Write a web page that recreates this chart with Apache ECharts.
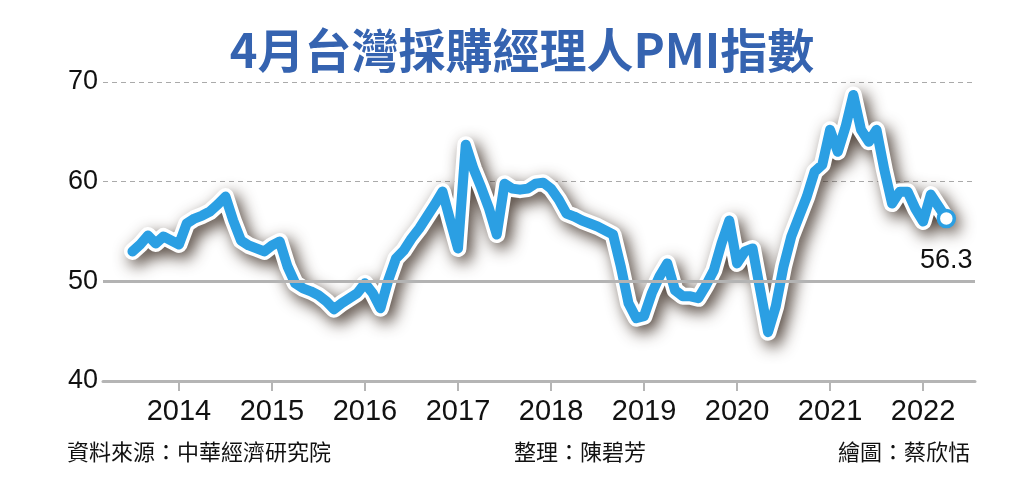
<!DOCTYPE html>
<html>
<head>
<meta charset="utf-8">
<title>4月台灣採購經理人PMI指數</title>
<script src="https://cdn.jsdelivr.net/npm/echarts@6/dist/echarts.min.js"></script>
<style>
  html, body { margin: 0; padding: 0; background: #fff; }
  #chart { width: 1024px; height: 490px; }
</style>
</head>
<body>
<div id="chart"></div>
<script>
// 月份(2013-07 ~ 2022-04)
const months = [
    '2013-07', '2013-08', '2013-09', '2013-10', '2013-11', '2013-12',
    '2014-01', '2014-02', '2014-03', '2014-04', '2014-05', '2014-06', '2014-07', '2014-08', '2014-09', '2014-10', '2014-11', '2014-12',
    '2015-01', '2015-02', '2015-03', '2015-04', '2015-05', '2015-06', '2015-07', '2015-08', '2015-09', '2015-10', '2015-11', '2015-12',
    '2016-01', '2016-02', '2016-03', '2016-04', '2016-05', '2016-06', '2016-07', '2016-08', '2016-09', '2016-10', '2016-11', '2016-12',
    '2017-01', '2017-02', '2017-03', '2017-04', '2017-05', '2017-06', '2017-07', '2017-08', '2017-09', '2017-10', '2017-11', '2017-12',
    '2018-01', '2018-02', '2018-03', '2018-04', '2018-05', '2018-06', '2018-07', '2018-08', '2018-09', '2018-10', '2018-11', '2018-12',
    '2019-01', '2019-02', '2019-03', '2019-04', '2019-05', '2019-06', '2019-07', '2019-08', '2019-09', '2019-10', '2019-11', '2019-12',
    '2020-01', '2020-02', '2020-03', '2020-04', '2020-05', '2020-06', '2020-07', '2020-08', '2020-09', '2020-10', '2020-11', '2020-12',
    '2021-01', '2021-02', '2021-03', '2021-04', '2021-05', '2021-06', '2021-07', '2021-08', '2021-09', '2021-10', '2021-11', '2021-12',
    '2022-01', '2022-02', '2022-03', '2022-04'
];
// PMI 指數
const pmi = [
    53.0, 53.7, 54.6, 53.8, 54.5, 54.1,
    53.7, 55.8, 56.3, 56.6, 57.0, 57.7, 58.5, 56.1, 54.1, 53.6, 53.3, 53.0,
    53.6, 54.0, 51.5, 49.8, 49.3, 49.0, 48.6, 48.0, 47.2, 47.8, 48.3, 48.8,
    49.8, 48.8, 47.3, 50.1, 52.3, 53.1, 54.3, 55.3, 56.5, 57.7, 59.0, 56.1,
    53.3, 63.7, 61.3, 59.4, 57.3, 54.7, 59.8, 59.3, 59.2, 59.3, 59.8, 59.9,
    59.3, 58.2, 56.8, 56.5, 56.1, 55.8, 55.5, 55.1, 54.7, 51.5, 47.8, 46.3,
    46.5, 48.8, 50.5, 51.8, 49.1, 48.5, 48.5, 48.3, 49.6, 51.1, 53.8, 56.1,
    51.8, 53.0, 53.3, 49.1, 44.9, 47.5, 51.5, 54.5, 56.5, 58.5, 61.0, 61.7,
    65.2, 63.0, 65.5, 68.7, 65.2, 64.0, 65.2, 61.2, 57.8, 59.0, 59.0, 57.3,
    56.0, 58.7, 57.5, 56.3
];
const yearLabels = ['2014', '2015', '2016', '2017', '2018', '2019', '2020', '2021', '2022'];
const lastLabel = '56.3';

// 月份轉成距 2014 年 1 月的月數
function monthIndex(s) {
    const [y, m] = s.split('-').map(Number);
    return (y - 2014) * 12 + (m - 1);
}
const lineData = months.map((m, i) => [monthIndex(m), pmi[i]]);
const yearTicks = yearLabels.map(y => (Number(y) - 2014) * 12);
const lastPoint = lineData[lineData.length - 1];

const blue = '#2b9fe3';
let chart = echarts.init(document.getElementById('chart'));
chart.setOption({
    animation: false,
    title: {
        text: '4月台灣採購經理人PMI指數',
        left: 517,
        textAlign: 'center',
        top: 22,
        textStyle: {
            fontFamily: 'Noto Sans CJK TC',
            fontSize: 47,
            fontWeight: 'bold',
            color: '#3563b0'
        }
    },
    grid: {
        left: 103,
        right: 49,
        top: 82,
        bottom: 109
    },
    xAxis: {
        type: 'value',
        min: -9.8,
        max: 102.7,
        splitLine: { show: false },
        axisLine: { lineStyle: { color: '#b5b5b5', width: 3 } },
        axisTick: {
            customValues: yearTicks,
            length: 10,
            lineStyle: { color: '#b5b5b5', width: 2 }
        },
        axisLabel: {
            customValues: yearTicks,
            formatter: v => String(2014 + Math.round(v / 12)),
            margin: 16,
            fontFamily: 'Liberation Sans',
            fontSize: 29,
            color: '#111'
        }
    },
    yAxis: {
        type: 'value',
        min: 40,
        max: 70,
        interval: 10,
        axisLine: { show: false },
        axisTick: { show: false },
        axisLabel: {
            margin: 5,
            fontFamily: 'Liberation Sans',
            fontSize: 27,
            color: '#111'
        },
        splitLine: {
            lineStyle: { color: '#aaa', type: [5, 4], width: 1 }
        }
    },
    series: [
        {
            // 50 的實線
            type: 'line',
            data: [],
            z: 1,
            silent: true,
            markLine: {
                silent: true,
                symbol: ['none', 'none'],
                label: { show: false },
                lineStyle: { type: 'solid', color: '#b3b3b3', width: 3 },
                data: [{ yAxis: 50 }]
            }
        },
        {
            // 白邊 + 陰影
            type: 'line',
            data: lineData,
            z: 2,
            showSymbol: false,
            silent: true,
            lineStyle: {
                color: '#fff',
                width: 17,
                cap: 'round',
                join: 'round',
                shadowColor: 'rgba(50,35,25,0.85)',
                shadowBlur: 16,
                shadowOffsetX: 5,
                shadowOffsetY: 6
            }
        },
        {
            type: 'line',
            data: lineData,
            z: 3,
            showSymbol: false,
            silent: true,
            lineStyle: {
                color: blue,
                width: 10,
                cap: 'round',
                join: 'round'
            }
        },
        {
            type: 'scatter',
            data: [lastPoint],
            z: 4,
            silent: true,
            symbol: 'circle',
            symbolSize: 16,
            itemStyle: { color: '#ffffff', opacity: 1, borderColor: blue, borderWidth: 3.5 },
            emphasis: { disabled: true },
            label: {
                show: true,
                formatter: lastLabel,
                position: 'bottom',
                distance: 19,
                fontFamily: 'Liberation Sans',
                fontSize: 27,
                color: '#111'
            }
        }
    ],
    graphic: [
        {
            type: 'text', left: 67, top: 441,
            style: { text: '資料來源：中華經濟研究院', font: '22px "Noto Sans CJK TC"', fill: '#111' }
        },
        {
            type: 'text', left: 514, top: 441,
            style: { text: '整理：陳碧芳', font: '22px "Noto Sans CJK TC"', fill: '#111' }
        },
        {
            type: 'text', right: 54, top: 441,
            style: { text: '繪圖：蔡欣恬', font: '22px "Noto Sans CJK TC"', fill: '#111' }
        }
    ]
});
window.onresize = function () {
    chart.resize();
};
</script>
</body>
</html>
